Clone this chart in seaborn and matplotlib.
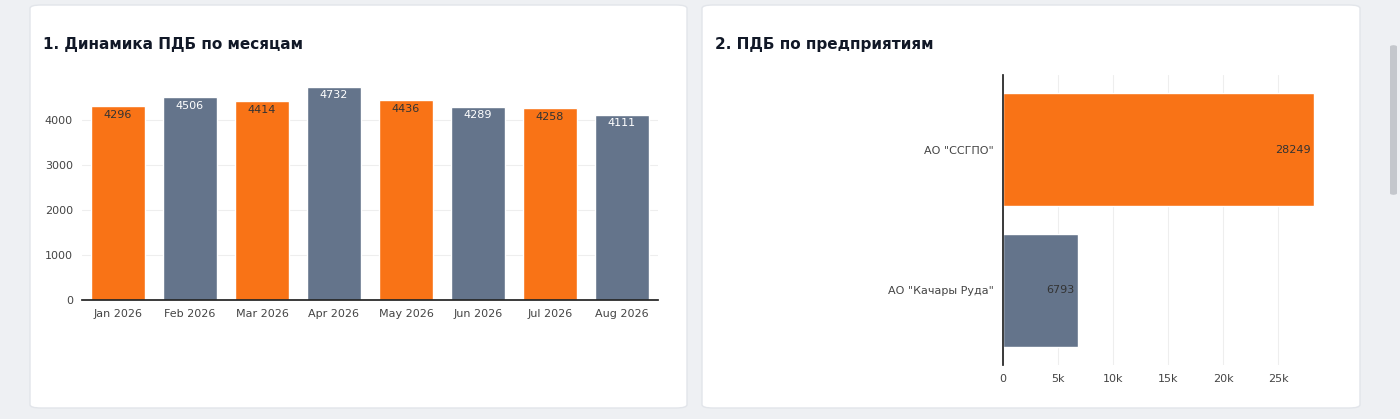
import matplotlib
matplotlib.use('Agg')
import matplotlib.pyplot as plt
from matplotlib.patches import FancyBboxPatch
import seaborn as sns
import pandas as pd

months = ['Jan 2026', 'Feb 2026', 'Mar 2026', 'Apr 2026', 'May 2026', 'Jun 2026', 'Jul 2026', 'Aug 2026']
month_values = [4296, 4506, 4414, 4732, 4436, 4289, 4258, 4111]
companies = ['АО "ССГПО"', 'АО "Качары Руда"']
company_values = [28249, 6793]

ORANGE = '#f97316'
SLATE = '#64748b'

sns.set_theme(style='white')
plt.rcParams['font.family'] = ['DejaVu Sans']

W, H = 1400, 419
fig = plt.figure(figsize=(W / 100, H / 100), dpi=100)
fig.patch.set_facecolor('#eef0f3')

def card(x0, y0, x1, y1):
    fig.patches.append(FancyBboxPatch((x0 / W, 1 - y1 / H), (x1 - x0) / W, (y1 - y0) / H,
                                      boxstyle='round,pad=0,rounding_size=0.008',
                                      transform=fig.transFigure, facecolor='white',
                                      edgecolor='#e2e5ea', linewidth=1, zorder=-5))

card(30, 5, 687, 408)
card(702, 5, 1360, 408)
# scrollbar
fig.patches.append(FancyBboxPatch((1390 / W, 1 - 195 / H), 7 / W, 150 / H,
                                  boxstyle='round,pad=0,rounding_size=0.004',
                                  transform=fig.transFigure, facecolor='#c4c7cc',
                                  edgecolor='none', zorder=-5))

fig.text(43 / W, 1 - 45 / H, '1. Динамика ПДБ по месяцам', fontsize=11, fontweight='bold',
         color='#111827', va='center')
fig.text(715 / W, 1 - 45 / H, '2. ПДБ по предприятиям', fontsize=11, fontweight='bold',
         color='#111827', va='center')

# left: monthly bars
ax1 = fig.add_axes([82 / W, (H - 300) / H, 576 / W, 224 / H])
ax1.patch.set_alpha(0)
df1 = pd.DataFrame({'month': months, 'value': month_values})
colors = [ORANGE if i % 2 == 0 else SLATE for i in range(len(months))]
sns.barplot(data=df1, x='month', y='value', hue='month', palette=colors, legend=False,
            width=0.74, ax=ax1, saturation=1)
for i, v in enumerate(month_values):
    ax1.text(i, v - 80, str(v), ha='center', va='top', fontsize=8,
             color='#333333' if i % 2 == 0 else 'white')
ax1.set_ylim(0, 4970)
ax1.set_xlim(-0.5, 7.5)
ax1.set_yticks([0, 1000, 2000, 3000, 4000])
ax1.yaxis.grid(True, color='#eeeeee', linewidth=0.8)
ax1.set_axisbelow(True)
ax1.set_xlabel('')
ax1.set_ylabel('')
ax1.tick_params(labelsize=8, colors='#444444', length=3)
for s in ['top', 'right', 'left']:
    ax1.spines[s].set_visible(False)
ax1.spines['bottom'].set_color('#222222')

# right: horizontal bars
ax2 = fig.add_axes([1003 / W, (H - 365) / H, 327 / W, 290 / H])
ax2.patch.set_alpha(0)
df2 = pd.DataFrame({'company': companies, 'value': company_values})
sns.barplot(data=df2, y='company', x='value', hue='company', palette=[ORANGE, SLATE],
            legend=False, width=0.8, ax=ax2, saturation=1, orient='h')
for i, v in enumerate(company_values):
    ax2.text(v - 300, i, str(v), ha='right', va='center', fontsize=8, color='#333333')
ax2.set_xlim(0, 29700)
ax2.set_ylim(1.53, -0.53)
ax2.set_xticks([0, 5000, 10000, 15000, 20000, 25000])
ax2.set_xticklabels(['0', '5k', '10k', '15k', '20k', '25k'])
ax2.xaxis.grid(True, color='#eeeeee', linewidth=0.8)
ax2.set_axisbelow(True)
ax2.set_xlabel('')
ax2.set_ylabel('')
ax2.tick_params(labelsize=8, colors='#444444', length=3)
for s in ['top', 'right', 'bottom']:
    ax2.spines[s].set_visible(False)
ax2.spines['left'].set_color('#222222')

fig.savefig('out.png', dpi=100)
